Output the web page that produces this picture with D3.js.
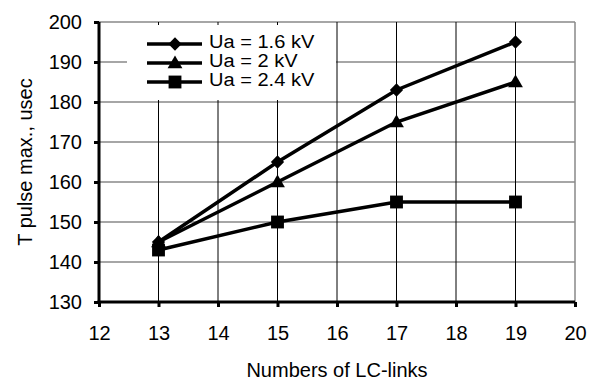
<!DOCTYPE html>
<html>
<head>
<meta charset="utf-8">
<script src="https://cdn.jsdelivr.net/npm/d3@7"></script>
<style>
  body { margin: 0; background: #fff; }
  text { font-family: "Liberation Sans", Arial, sans-serif; fill: #000; }
</style>
</head>
<body>
<svg id="chart" width="597" height="383"></svg>
<script>
// chart data
const links = [13, 15, 17, 19];
const ua16 = [145, 165, 183, 195];
const ua2 = [145, 160, 175, 185];
const ua24 = [143, 150, 155, 155];
const seriesNames = ['Ua = 1.6 kV', 'Ua = 2 kV', 'Ua = 2.4 kV'];
const xTicks = [12, 13, 14, 15, 16, 17, 18, 19, 20];
const yTicks = [130, 140, 150, 160, 170, 180, 190, 200];

const svg = d3.select('#chart');
const plotL = 99, plotR = 575, plotT = 22, plotB = 302;

const x = d3.scaleLinear().domain([12, 20]).range([plotL, plotR]);
const y = d3.scaleLinear().domain([130, 200]).range([plotB, plotT]);

// gridlines
svg.append('g').selectAll('line').data(yTicks.slice(1))
  .enter().append('line')
  .attr('x1', plotL).attr('x2', plotR)
  .attr('y1', d => y(d)).attr('y2', d => y(d))
  .attr('stroke', '#888').attr('stroke-width', 1.5);
svg.append('g').selectAll('line').data(xTicks.slice(1, -1))
  .enter().append('line')
  .attr('x1', d => x(d)).attr('x2', d => x(d))
  .attr('y1', plotT).attr('y2', plotB)
  .attr('stroke', '#000').attr('stroke-width', 1);
svg.append('line')
  .attr('x1', plotR).attr('x2', plotR).attr('y1', plotT).attr('y2', plotB)
  .attr('stroke', '#888').attr('stroke-width', 1.5);

// legend background hides grid
svg.append('rect')
  .attr('x', 127).attr('y', 25).attr('width', 209).attr('height', 75)
  .attr('fill', '#fff');

// axes
const yAxis = svg.append('g')
  .attr('transform', `translate(${plotL},0)`)
  .call(d3.axisLeft(y).tickValues(yTicks).tickSize(5).tickPadding(12));
const xAxis = svg.append('g')
  .attr('transform', `translate(0,${plotB})`)
  .call(d3.axisBottom(x).tickValues(xTicks).tickSize(5).tickPadding(19));
[xAxis, yAxis].forEach(a => {
  a.select('.domain').attr('stroke', '#000').attr('stroke-width', 3);
  a.selectAll('.tick line').attr('stroke', '#000').attr('stroke-width', 3);
  a.selectAll('.tick text').attr('font-size', 20)
    .attr('font-family', '"Liberation Sans", Arial, sans-serif');
});
yAxis.select('.domain').attr('d', `M0,${plotT}V${plotB + 1.5}`);
xAxis.select('.domain').attr('d', `M${-1.5 + plotL},0H${plotR}`);

// series
const series = [ua16, ua2, ua24];
const shapes = [d3.symbolSquare, d3.symbolTriangle, d3.symbolSquare];
const sizes = [88, 95, 165];
const rot = [45, 0, 0];
const line = d3.line().x((d, i) => x(links[i])).y(d => y(d));

series.forEach((vals, k) => {
  svg.append('path').datum(vals)
    .attr('d', line)
    .attr('fill', 'none').attr('stroke', '#000').attr('stroke-width', 3.5);
  svg.append('g').selectAll('path').data(vals)
    .enter().append('path')
    .attr('d', d3.symbol().type(shapes[k]).size(sizes[k]))
    .attr('transform', (d, i) => `translate(${x(links[i])},${y(d) + (k === 1 ? 1 : 0)}) rotate(${rot[k]})`)
    .attr('fill', '#000');
});

// legend
const legend = svg.append('g');
seriesNames.forEach((name, k) => {
  const ly = 44 + k * 19;
  legend.append('line')
    .attr('x1', 147).attr('x2', 202).attr('y1', ly).attr('y2', ly)
    .attr('stroke', '#000').attr('stroke-width', 3.5);
  legend.append('path')
    .attr('d', d3.symbol().type(shapes[k]).size(sizes[k]))
    .attr('transform', `translate(175,${ly + (k === 1 ? 1 : 0)}) rotate(${rot[k]})`)
    .attr('fill', '#000');
  legend.append('text')
    .attr('transform', `translate(209,${ly + 4}) scale(1.18,1.05)`)
    .attr('font-size', 17)
    .text(name);
});

// axis titles
svg.append('text')
  .attr('x', (plotL + plotR) / 2).attr('y', 377)
  .attr('text-anchor', 'middle').attr('font-size', 20)
  .text('Numbers of LC-links');
svg.append('text')
  .attr('transform', `translate(32,${(plotT + plotB) / 2}) rotate(-90)`)
  .attr('text-anchor', 'middle').attr('font-size', 20)
  .text('T pulse max., usec');
</script>
</body>
</html>
